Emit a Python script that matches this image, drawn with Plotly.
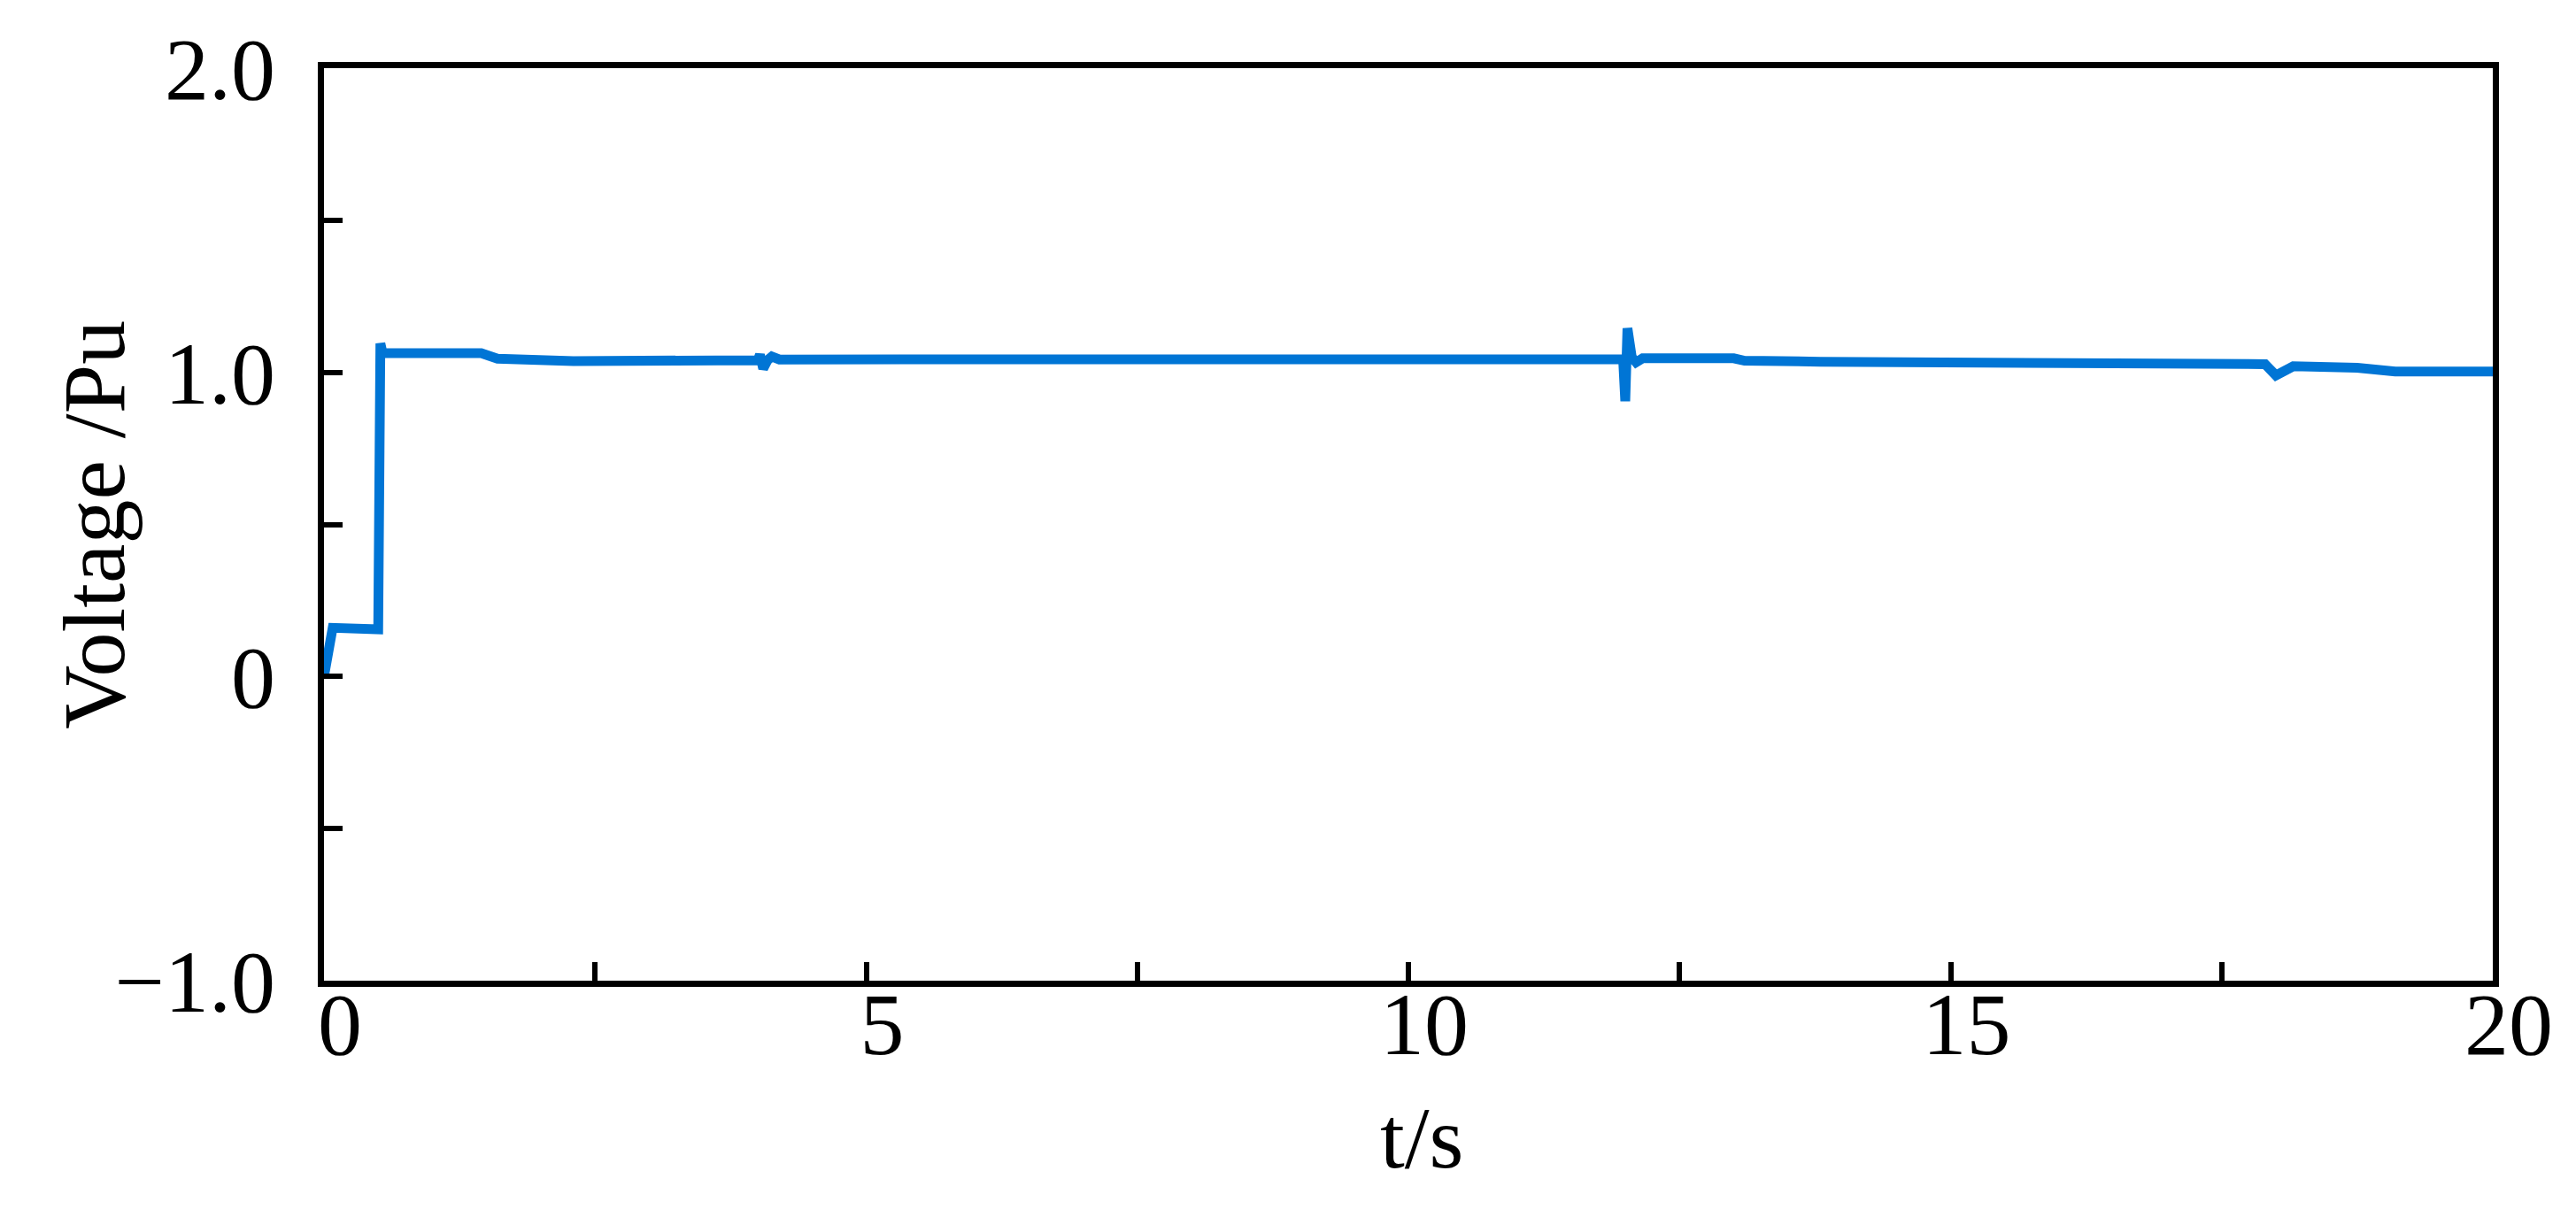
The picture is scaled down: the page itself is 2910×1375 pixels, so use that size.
import plotly.graph_objects as go

# Data (time in s, voltage in p.u.)
t = [0.0, 0.08, 0.50, 0.52, 0.54, 1.45, 1.60, 2.30, 4.00, 4.02, 4.05, 4.09, 4.13, 4.20,
     5.70, 5.75, 11.98, 12.00, 12.02, 12.06, 12.10, 12.16, 13.00, 13.10, 13.80, 15.95,
     16.05, 17.90, 18.00, 18.09, 18.16, 18.75, 19.10, 20.0]
v = [0.0, 0.16, 0.155, 1.095, 1.063, 1.063, 1.045, 1.037, 1.040, 1.058, 1.012, 1.040, 1.052, 1.042,
     1.038, 1.043, 1.043, 0.905, 1.145, 1.050, 1.033, 1.046, 1.046, 1.038, 1.035, 1.035,
     1.027, 1.027, 0.990, 1.010, 1.020, 1.015, 1.003, 1.003]

x_tickvals = [0, 2.5, 5, 7.5, 10, 12.5, 15, 17.5, 20]
x_ticktext = ["0", "", "5", "", "10", "", "15", "", "20"]
y_tickvals = [-1.0, -0.5, 0, 0.5, 1.0, 1.5, 2.0]
y_ticktext = ["\u22121.0", "", "0", "", "1.0", "", "2.0"]
x_title = "t/s"
y_title = "Voltage /Pu"

FONT = "Liberation Serif, Times New Roman, serif"
LINE_COLOR = "#0075D5"

fig = go.Figure()
fig.add_trace(go.Scatter(x=t, y=v, mode="lines",
                         line=dict(color=LINE_COLOR, width=11),
                         showlegend=False, hoverinfo="skip"))

fig.update_layout(
    width=2910, height=1375,
    margin=dict(l=366, r=94, t=77, b=267),
    paper_bgcolor="white", plot_bgcolor="white",
    font=dict(family=FONT, size=100, color="black"),
)
fig.update_xaxes(
    range=[0, 20], tickvals=x_tickvals, ticktext=x_ticktext,
    ticks="inside", ticklen=21, tickwidth=6, tickcolor="black",
    showline=True, linewidth=7, linecolor="black", mirror=True,
    showgrid=False, zeroline=False,
    ticklabelshift=18, ticklabelstandoff=-44,
)
fig.update_yaxes(
    range=[-1.0, 2.0], tickvals=y_tickvals, ticktext=y_ticktext,
    ticks="inside", ticklen=21, tickwidth=6, tickcolor="black",
    showline=True, linewidth=7, linecolor="black", mirror=True,
    showgrid=False, zeroline=False,
    ticklabelstandoff=28,
)
fig.add_annotation(text=x_title, xref="paper", yref="paper", x=0.506, y=-0.172,
                   xanchor="center", yanchor="middle", showarrow=False,
                   font=dict(family=FONT, size=100, color="black"))
fig.add_annotation(text=y_title, xref="paper", yref="paper", x=-0.106, y=0.5,
                   xanchor="center", yanchor="middle", showarrow=False, textangle=-90,
                   font=dict(family=FONT, size=100, color="black"))

fig.write_html("out.html", config={"displayModeBar": False},
               post_script="document.body.style.margin='0';")
